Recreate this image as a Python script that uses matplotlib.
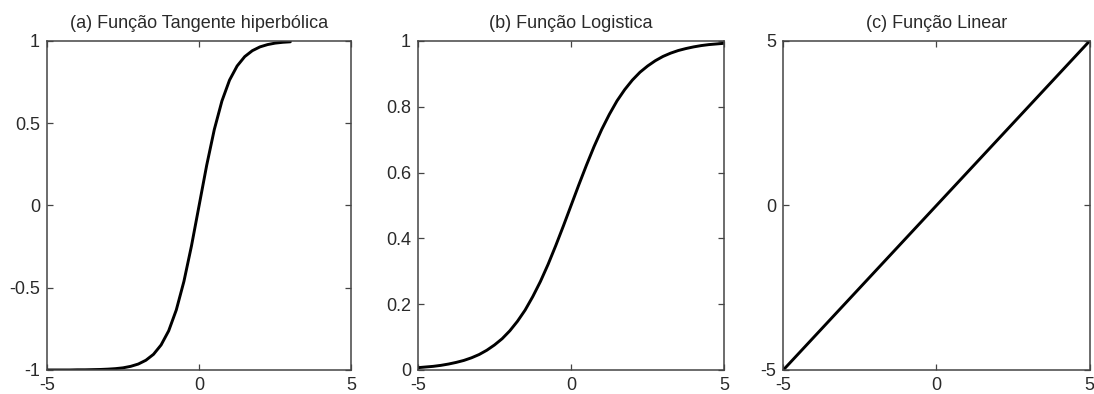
import matplotlib
matplotlib.use("Agg")
import matplotlib.pyplot as plt

plt.rcParams['font.family'] = ['Liberation Sans', 'DejaVu Sans']

# Panel (a): hyperbolic tangent
x_tanh = [-5, -4.75, -4.5, -4.25, -4, -3.75, -3.5, -3.25, -3, -2.75, -2.5, -2.25,
          -2, -1.75, -1.5, -1.25, -1, -0.75, -0.5, -0.25, 0, 0.25, 0.5, 0.75, 1,
          1.25, 1.5, 1.75, 2, 2.25, 2.5, 2.75, 3]
y_tanh = [-1.0, -1.0, -1.0, -1.0, -0.999, -0.999, -0.998, -0.997, -0.995, -0.992,
          -0.987, -0.978, -0.964, -0.941, -0.905, -0.848, -0.762, -0.635, -0.462,
          -0.245, 0.0, 0.245, 0.462, 0.635, 0.762, 0.848, 0.905, 0.941, 0.964,
          0.978, 0.987, 0.992, 0.995]

# Panel (b): logistic
x_log = [-5, -4.75, -4.5, -4.25, -4, -3.75, -3.5, -3.25, -3, -2.75, -2.5, -2.25,
         -2, -1.75, -1.5, -1.25, -1, -0.75, -0.5, -0.25, 0, 0.25, 0.5, 0.75, 1,
         1.25, 1.5, 1.75, 2, 2.25, 2.5, 2.75, 3, 3.25, 3.5, 3.75, 4, 4.25, 4.5,
         4.75, 5]
y_log = [0.007, 0.009, 0.011, 0.014, 0.018, 0.023, 0.029, 0.037, 0.047, 0.060,
         0.076, 0.095, 0.119, 0.148, 0.182, 0.223, 0.269, 0.321, 0.378, 0.438,
         0.5, 0.562, 0.622, 0.679, 0.731, 0.777, 0.818, 0.852, 0.881, 0.905,
         0.924, 0.940, 0.953, 0.963, 0.971, 0.977, 0.982, 0.986, 0.989, 0.991,
         0.993]

# Panel (c): linear
x_lin = [-5, 5]
y_lin = [-5, 5]

titles = ['(a) Função Tangente hiperbólica', '(b) Função Logistica', '(c) Função Linear']
xticks = [-5, 0, 5]
xticklabels = ['-5', '0', '5']
yticks_a = [-1, -0.5, 0, 0.5, 1]
yticklabels_a = ['-1', '-0.5', '0', '0.5', '1']
yticks_b = [0, 0.2, 0.4, 0.6, 0.8, 1]
yticklabels_b = ['0', '0.2', '0.4', '0.6', '0.8', '1']
yticks_c = [-5, 0, 5]
yticklabels_c = ['-5', '0', '5']

fig = plt.figure(figsize=(10.94, 3.94), dpi=100)
positions = [[0.043, 0.061, 0.278, 0.835],
             [0.382, 0.061, 0.280, 0.835],
             [0.716, 0.061, 0.280, 0.835]]
datasets = [(x_tanh, y_tanh, (-1, 1), yticks_a, yticklabels_a),
            (x_log, y_log, (0, 1), yticks_b, yticklabels_b),
            (x_lin, y_lin, (-5, 5), yticks_c, yticklabels_c)]

txt = '#2a2a2a'
for pos, (xs, ys, ylim, yt, ytl), title in zip(positions, datasets, titles):
    ax = fig.add_axes(pos)
    ax.plot(xs, ys, color='black', lw=2.1, solid_capstyle='round')
    ax.set_xlim(-5, 5)
    ax.set_ylim(*ylim)
    ax.set_xticks(xticks)
    ax.set_xticklabels(xticklabels)
    ax.set_yticks(yt)
    ax.set_yticklabels(ytl)
    ax.tick_params(direction='in', top=True, right=True, length=4, width=0.9,
                   colors='#444444', labelcolor=txt, labelsize=13)
    ax.tick_params(axis='y', pad=5)
    ax.tick_params(axis='x', pad=5)
    for s in ax.spines.values():
        s.set_color('#444444')
        s.set_linewidth(1.1)
    ax.set_title(title, fontsize=13, color=txt, pad=9)

fig.savefig('out.png', dpi=100, facecolor='white')
